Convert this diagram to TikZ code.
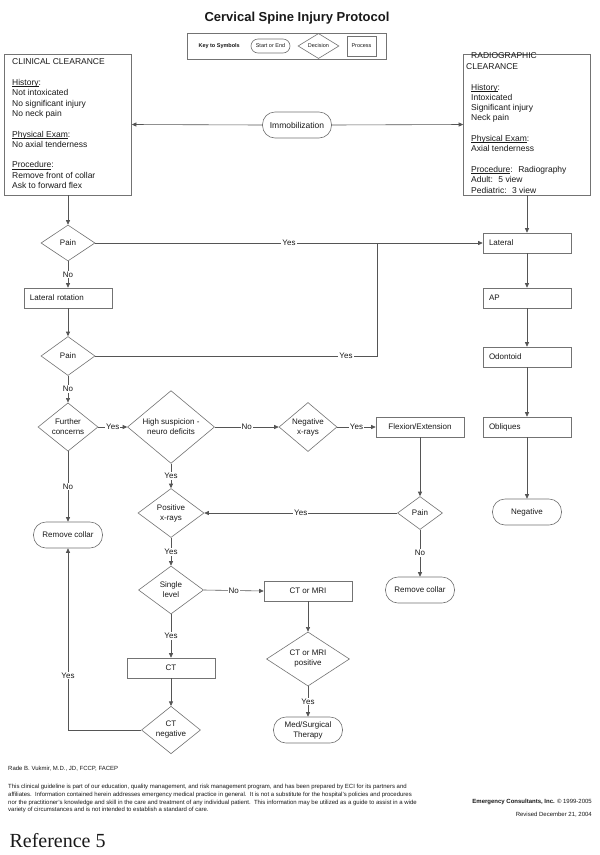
\documentclass[tikz,border=0pt]{standalone}
\usepackage{fontspec}
\setmainfont{Liberation Sans}
\newfontfamily\reffont{Liberation Serif}
\usetikzlibrary{arrows.meta,shapes.geometric}
\definecolor{csline}{RGB}{85,85,85}
\definecolor{csedge}{RGB}{115,115,115}
\definecolor{cstext}{RGB}{25,25,25}
\newcommand\csul[1]{\setbox0\hbox{#1}\rlap{\rule[-1.1pt]{\wd0}{0.45pt}}#1}

\begin{document}
\begin{tikzpicture}[x=1pt, y=-1pt,
  every node/.style={font=\fontsize{8}{10}\selectfont, text=cstext},
  proc/.style={draw=csedge, line width=0.6pt, minimum width=88pt,
    minimum height=20pt, inner sep=0pt, align=center},
  procl/.style={proc, text width=76pt, align=left},
  term/.style={draw=csedge, line width=0.6pt, rounded corners=12.5pt,
    minimum width=69pt, minimum height=26pt, inner sep=0pt, align=center},
  dec/.style={draw=csedge, line width=0.6pt, diamond, inner sep=0pt,
    align=center},
  panel/.style={draw=csedge, line width=0.6pt, minimum width=127pt,
    minimum height=141pt, inner sep=0pt},
  paneltxt/.style={font=\fontsize{8.5}{10.3}\selectfont, inner sep=0pt,
    align=left},
  arr/.style={-{Triangle[length=4.5pt,width=4pt]}, draw=csline,
    line width=0.6pt},
  lab/.style={fill=white, inner sep=1pt},
  keytxt/.style={font=\fontsize{5.5}{6.5}\selectfont},
  foot/.style={font=\fontsize{6}{7.8}\selectfont, inner sep=0pt,
    align=left}
]
  \path[fill=white, use as bounding box] (0,0) rectangle (600,855);

  % title and key
  \node[anchor=base, font=\fontsize{13}{15}\bfseries] (ttl) at (297,21)
    {Cervical Spine Injury Protocol};
  \node[draw=csedge, line width=0.6pt, minimum width=199pt,
    minimum height=26pt] (key) at (286.5,46) {};
  \node[keytxt, font=\fontsize{5.5}{6.5}\bfseries, anchor=west]
    (keylab) at (195,46) {Key to Symbols};
  \node[term, keytxt, minimum width=39pt, minimum height=14pt,
    rounded corners=7pt] (keyterm) at (270.5,46) {Start or End};
  \node[dec, keytxt, minimum width=41pt, minimum height=22pt]
    (keydec) at (318.5,46) {Decision};
  \node[proc, keytxt, minimum width=29pt, minimum height=20pt]
    (keyproc) at (361.5,46) {Process};

  % clearance panels
  \node[panel] (clin) at (68,124.5) {};
  \node[paneltxt, anchor=north west] (clintxt) at (12,58.8)
    {CLINICAL CLEARANCE\\[10.3pt]
     \csul{History}:\\
     Not intoxicated\\
     No significant injury\\
     No neck pain\\[10.3pt]
     \csul{Physical Exam}:\\
     No axial tenderness\\[10.3pt]
     \csul{Procedure}:\\
     Remove front of collar\\
     Ask to forward flex};
  \node[panel] (radi) at (527,124.5) {};
  \node[paneltxt, anchor=north west] (raditop) at (466,52.8)
    {\hspace*{5pt}RADIOGRAPHIC\\CLEARANCE};
  \node[paneltxt, anchor=north west] (raditxt) at (471,83.7)
    {\csul{History}:\\
     Intoxicated\\
     Significant injury\\
     Neck pain\\[10.3pt]
     \csul{Physical Exam}:\\
     Axial tenderness\\[10.3pt]
     \csul{Procedure}:~ Radiography\\
     Adult:~ 5 view\\
     Pediatric:~ 3 view};
  \node[term, font=\fontsize{8.5}{10}\selectfont] (imm) at (297,125)
    {Immobilization};

  % left column
  \node[dec, minimum width=54pt, minimum height=36pt] (pain1) at (68,243) {Pain};
  \node[procl] (latrot) at (68,298) {Lateral rotation};
  \node[dec, minimum width=54pt, minimum height=39pt] (pain2) at (68,356) {Pain};
  \node[dec, minimum width=60pt, minimum height=46pt] (further) at (68,427)
    {Further\\concerns};
  \node[term] (rcleft) at (68,535) {Remove collar};

  % middle columns
  \node[dec, minimum width=87pt, minimum height=57pt] (highsus) at (171,427)
    {High suspicion -\\neuro deficits};
  \node[dec, minimum width=66pt, minimum height=49pt] (posx) at (171,513)
    {Positive\\x-rays};
  \node[dec, minimum width=65pt, minimum height=48pt] (single) at (171,590)
    {Single\\level};
  \node[proc] (ct) at (171,668) {CT};
  \node[dec, minimum width=59pt, minimum height=38pt] (ctneg) at (171,730)
    {CT\\negative};
  \node[dec, minimum width=58pt, minimum height=46pt] (negx) at (308,427)
    {Negative\\x-rays};
  \node[proc] (ctmri) at (308,591) {CT or MRI};
  \node[dec, minimum width=83pt, minimum height=48pt] (ctpos) at (308,659)
    {CT or MRI\\positive};
  \node[term] (medsurg) at (308,730) {Med/Surgical\\Therapy};
  \node[proc] (flex) at (420,427) {Flexion/Extension};
  \node[dec, minimum width=45pt, minimum height=33pt] (pain3) at (420,513) {Pain};
  \node[term] (rcright) at (420,590) {Remove collar};

  % right column
  \node[procl] (lat) at (527,243) {Lateral};
  \node[procl] (ap) at (527,298) {AP};
  \node[procl] (odont) at (527,357) {Odontoid};
  \node[procl] (obl) at (527,427) {Obliques};
  \node[term] (neg) at (527,512) {Negative};

  % connectors
  \draw[arr] (imm.west) -- (clin.east);
  \draw[arr] (imm.east) -- (radi.west);
  \draw[arr] (clin.south) -- (pain1.north);
  \draw[arr] (radi.south) -- (lat.north);
  \draw[arr] (pain1.east) -- node[lab]{Yes} (lat.west);
  \draw[arr] (pain1.south) -- node[lab]{No} (latrot.north);
  \draw[arr] (latrot.south) -- (pain2.north);
  \coordinate (join) at (377,243);
  \draw[arr, -] (pain2.east) -| node[lab, pos=0.445]{Yes} (join);
  \draw[arr] (pain2.south) -- node[lab]{No} (further.north);
  \draw[arr] (further.east) -- node[lab]{Yes} (highsus.west);
  \draw[arr] (further.south) -- node[lab]{No} (rcleft.north);
  \draw[arr] (highsus.east) -- node[lab]{No} (negx.west);
  \draw[arr] (highsus.south) -- node[lab]{Yes} (posx.north);
  \draw[arr] (negx.east) -- node[lab]{Yes} (flex.west);
  \draw[arr] (flex.south) -- (pain3.north);
  \draw[arr] (pain3.west) -- node[lab]{Yes} (posx.east);
  \draw[arr] (pain3.south) -- node[lab]{No} (rcright.north);
  \draw[arr] (posx.south) -- node[lab]{Yes} (single.north);
  \draw[arr] (single.east) -- node[lab]{No} (ctmri.west);
  \draw[arr] (single.south) -- node[lab]{Yes} (ct.north);
  \draw[arr] (ct.south) -- (ctneg.north);
  \draw[arr] (ctneg.west) -| node[lab, pos=0.65]{Yes} (rcleft.south);
  \draw[arr] (ctmri.south) -- (ctpos.north);
  \draw[arr] (ctpos.south) -- node[lab]{Yes} (medsurg.north);
  \draw[arr] (lat.south) -- (ap.north);
  \draw[arr] (ap.south) -- (odont.north);
  \draw[arr] (odont.south) -- (obl.north);
  \draw[arr] (obl.south) -- (neg.north);

  % footer
  \node[foot, anchor=base west] (author) at (8,770)
    {Rade B. Vukmir, M.D., JD, FCCP, FACEP};
  \node[foot, anchor=north west] (disc) at (8,784)
    {This clinical guideline is part of our education, quality management, and risk management program, and has been prepared by ECI for its partners and\\
     affiliates.\ \ Information contained herein addresses emergency medical practice in general.\ \ It is not a substitute for the hospital's policies and procedures\\
     nor the practitioner's knowledge and skill in the care and treatment of any individual patient.\ \ This information may be utilized as a guide to assist in a wide\\
     variety of circumstances and is not intended to establish a standard of care.};
  \node[foot, anchor=base east] (firm) at (592,803)
    {\textbf{Emergency Consultants, Inc.} \textcopyright{} 1999-2005};
  \node[foot, anchor=base east] (rev) at (592,816)
    {Revised December 21, 2004};
  \node[anchor=base west, font=\reffont\fontsize{20}{24}\selectfont]
    (refno) at (6,847) {Reference 5};
\end{tikzpicture}
\end{document}
